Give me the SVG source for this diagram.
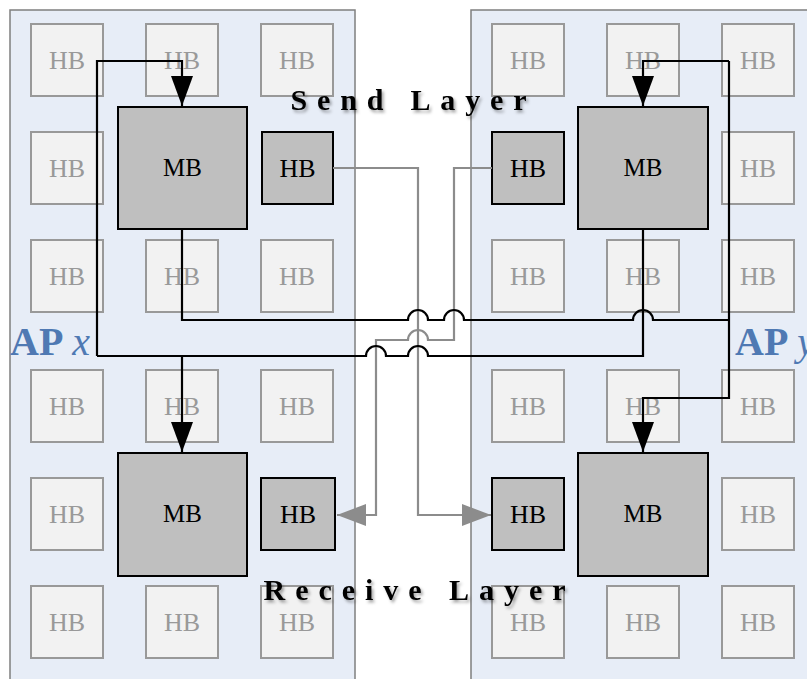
<svg xmlns="http://www.w3.org/2000/svg" width="807" height="679" viewBox="0 0 807 679">
<style>
.panel{fill:#e7edf7;stroke:#7f7f7f;stroke-width:1.5}
.hb rect{fill:#f2f2f2;stroke:#999;stroke-width:2}
.hb text{fill:#999;font-family:"Liberation Serif",serif;font-size:26px;text-anchor:middle}
.dk rect{fill:#bfbfbf;stroke:#000;stroke-width:2}
.dk text{fill:#000;font-family:"Liberation Serif",serif;font-size:26px;text-anchor:middle}
.mb text{font-size:25px}
.bl{fill:none;stroke:#000;stroke-width:2.2}
.gr{fill:none;stroke:#8c8c8c;stroke-width:2.2}
.layer{font-family:"Liberation Serif",serif;font-weight:bold;font-size:30px;fill:#000;text-anchor:middle}
.ap{font-family:"Liberation Serif",serif;font-size:40px;fill:#4f79b3;font-weight:bold}
</style>
<defs>
<filter id="sh" x="-10%" y="-30%" width="120%" height="160%">
<feDropShadow dx="2" dy="2.5" stdDeviation="1.5" flood-color="#000" flood-opacity="0.35"/>
</filter>
<marker id="ab" markerUnits="userSpaceOnUse" markerWidth="30" markerHeight="22" refX="30" refY="11" orient="auto">
<path d="M0,0 L30,11 L0,22 Z" fill="#000"/>
</marker>
<marker id="ag" markerUnits="userSpaceOnUse" markerWidth="29" markerHeight="22" refX="29" refY="11" orient="auto">
<path d="M0,0 L29,11 L0,22 Z" fill="#8c8c8c"/>
</marker>
</defs>

<rect class="panel" x="10" y="10" width="345" height="690"/>
<rect class="panel" x="471" y="10" width="360" height="690"/>

<!-- left panel light HBs -->
<g id="l-hb-1-1" class="hb"><rect x="31" y="24" width="72" height="72"/><text x="67" y="69">HB</text></g>
<g id="l-hb-1-2" class="hb"><rect x="146" y="24" width="72" height="72"/><text x="182" y="69">HB</text></g>
<g id="l-hb-1-3" class="hb"><rect x="261" y="24" width="72" height="72"/><text x="297" y="69">HB</text></g>
<g id="l-hb-2-1" class="hb"><rect x="31" y="132" width="72" height="72"/><text x="67" y="177">HB</text></g>
<g id="l-hb-3-1" class="hb"><rect x="31" y="240" width="72" height="72"/><text x="67" y="285">HB</text></g>
<g id="l-hb-3-2" class="hb"><rect x="146" y="240" width="72" height="72"/><text x="182" y="285">HB</text></g>
<g id="l-hb-3-3" class="hb"><rect x="261" y="240" width="72" height="72"/><text x="297" y="285">HB</text></g>
<g id="l-hb-4-1" class="hb"><rect x="31" y="370" width="72" height="72"/><text x="67" y="415">HB</text></g>
<g id="l-hb-4-2" class="hb"><rect x="146" y="370" width="72" height="72"/><text x="182" y="415">HB</text></g>
<g id="l-hb-4-3" class="hb"><rect x="261" y="370" width="72" height="72"/><text x="297" y="415">HB</text></g>
<g id="l-hb-5-1" class="hb"><rect x="31" y="478" width="72" height="72"/><text x="67" y="523">HB</text></g>
<g id="l-hb-6-1" class="hb"><rect x="31" y="586" width="72" height="72"/><text x="67" y="631">HB</text></g>
<g id="l-hb-6-2" class="hb"><rect x="146" y="586" width="72" height="72"/><text x="182" y="631">HB</text></g>
<g id="l-hb-6-3" class="hb"><rect x="261" y="586" width="72" height="72"/><text x="297" y="631">HB</text></g>

<!-- right panel light HBs -->
<g id="r-hb-1-1" class="hb"><rect x="492" y="24" width="72" height="72"/><text x="528" y="69">HB</text></g>
<g id="r-hb-1-2" class="hb"><rect x="607" y="24" width="72" height="72"/><text x="643" y="69">HB</text></g>
<g id="r-hb-1-3" class="hb"><rect x="722" y="24" width="72" height="72"/><text x="758" y="69">HB</text></g>
<g id="r-hb-2-3" class="hb"><rect x="722" y="132" width="72" height="72"/><text x="758" y="177">HB</text></g>
<g id="r-hb-3-1" class="hb"><rect x="492" y="240" width="72" height="72"/><text x="528" y="285">HB</text></g>
<g id="r-hb-3-2" class="hb"><rect x="607" y="240" width="72" height="72"/><text x="643" y="285">HB</text></g>
<g id="r-hb-3-3" class="hb"><rect x="722" y="240" width="72" height="72"/><text x="758" y="285">HB</text></g>
<g id="r-hb-4-1" class="hb"><rect x="492" y="370" width="72" height="72"/><text x="528" y="415">HB</text></g>
<g id="r-hb-4-2" class="hb"><rect x="607" y="370" width="72" height="72"/><text x="643" y="415">HB</text></g>
<g id="r-hb-4-3" class="hb"><rect x="722" y="370" width="72" height="72"/><text x="758" y="415">HB</text></g>
<g id="r-hb-5-3" class="hb"><rect x="722" y="478" width="72" height="72"/><text x="758" y="523">HB</text></g>
<g id="r-hb-6-1" class="hb"><rect x="492" y="586" width="72" height="72"/><text x="528" y="631">HB</text></g>
<g id="r-hb-6-2" class="hb"><rect x="607" y="586" width="72" height="72"/><text x="643" y="631">HB</text></g>
<g id="r-hb-6-3" class="hb"><rect x="722" y="586" width="72" height="72"/><text x="758" y="631">HB</text></g>

<!-- dark nodes -->
<g id="mb-left-send" class="dk mb"><rect x="118" y="107" width="129" height="122"/><text x="182.5" y="176">MB</text></g>
<g id="hb-left-send" class="dk"><rect x="262" y="132" width="71" height="72"/><text x="297.5" y="177">HB</text></g>
<g id="mb-right-send" class="dk mb"><rect x="578" y="107" width="130" height="122"/><text x="643" y="176">MB</text></g>
<g id="hb-right-send" class="dk"><rect x="492" y="132" width="72" height="72"/><text x="528" y="177">HB</text></g>
<g id="mb-left-recv" class="dk mb"><rect x="118" y="453" width="129" height="123"/><text x="182.5" y="522">MB</text></g>
<g id="hb-left-recv" class="dk"><rect x="261" y="478" width="74" height="72"/><text x="298" y="523">HB</text></g>
<g id="mb-right-recv" class="dk mb"><rect x="578" y="453" width="130" height="123"/><text x="643" y="522">MB</text></g>
<g id="hb-right-recv" class="dk"><rect x="492" y="478" width="72" height="72"/><text x="528" y="523">HB</text></g>

<!-- connectors -->
<g id="connectors">
<path class="gr" d="M333,168 H418 V515 H491" marker-end="url(#ag)"/>
<path class="gr" d="M492,168 H454 V340 H428 a10,10 0 0 0 -20,0 H376 V515 H337" marker-end="url(#ag)"/>
<path class="bl" d="M182,229 V320 H408 a10,10 0 0 1 20,0 H444 a10,10 0 0 1 20,0 H633 a10,10 0 0 1 20,0 H729"/>
<path class="bl" d="M729,61 V398 H643 V452" marker-end="url(#ab)"/>
<path class="bl" d="M729,61 H643 V106" marker-end="url(#ab)"/>
<path class="bl" d="M643,229 V356 H428 a10,10 0 0 0 -20,0 H386 a10,10 0 0 0 -20,0 H97"/>
<path class="bl" d="M182,356 V452" marker-end="url(#ab)"/>
<path class="bl" d="M97,356 V61 H182 V106" marker-end="url(#ab)"/>
</g>

<!-- labels -->
<text class="layer" x="408.5" y="110" textLength="236" lengthAdjust="spacing" filter="url(#sh)">Send Layer</text>
<text class="layer" x="414.5" y="600" textLength="302" lengthAdjust="spacing" filter="url(#sh)">Receive Layer</text>
<text class="ap" x="10" y="355">AP<tspan font-style="italic" font-weight="normal" dx="9">x</tspan></text>
<text class="ap" x="735" y="355">AP<tspan font-style="italic" font-weight="normal" dx="9">y</tspan></text>
</svg>
